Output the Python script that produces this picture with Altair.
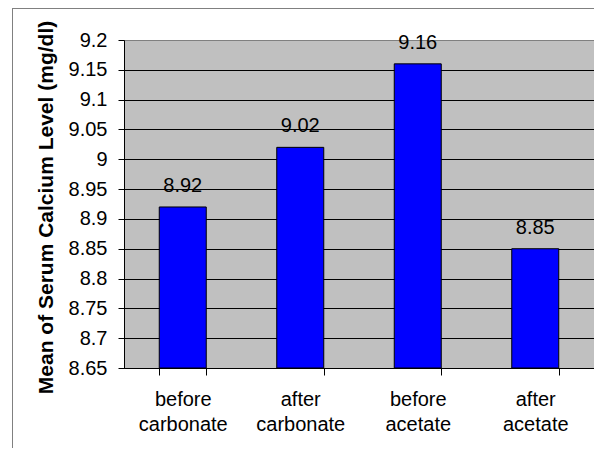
import altair as alt
import pandas as pd

categories = ["before carbonate", "after carbonate", "before acetate", "after acetate"]
values = [8.92, 9.02, 9.16, 8.85]
y_ticks = [8.65, 8.7, 8.75, 8.8, 8.85, 8.9, 8.95, 9.0, 9.05, 9.1, 9.15, 9.2]

df = pd.DataFrame({"cat": categories, "val": values})

FONT = "Liberation Sans"
W, H = 470, 328

x_enc = alt.X(
    "cat:N",
    sort=categories,
    scale=alt.Scale(paddingInner=0.6, paddingOuter=0.3),
    axis=alt.Axis(
        title=None,
        labelAngle=0,
        labelExpr="split(datum.label, ' ')",
        labelLineHeight=25,
        labelFontSize=20,
        labelFont=FONT,
        labelColor="black",
        labelPadding=14,
        tickBand="extent",
        tickSize=7,
        tickColor="black",
        domainColor="black",
        grid=False,
    ),
)
y_enc = alt.Y(
    "val:Q",
    scale=alt.Scale(domain=[8.65, 9.2], nice=False, zero=False),
    axis=alt.Axis(
        title="Mean of Serum Calcium Level (mg/dl)",
        titleFont=FONT,
        titleFontSize=21,
        titleFontWeight="bold",
        titleColor="black",
        titleAngle=270,
        titleAlign="center",
        titleBaseline="middle",
        titleX=-78,
        titleY=167,
        values=y_ticks,
        tickCount=len(y_ticks) + 2,
        format="~g",
        labelOverlap=False,
        labelFontSize=20,
        labelFont=FONT,
        labelColor="black",
        labelPadding=11,
        tickSize=6,
        tickColor="black",
        domainColor="black",
        grid=True,
        gridColor={"condition": {"test": "datum.value >= 9.19", "value": "#808080"}, "value": "black"},
        gridOpacity=1,
    ),
)

bars = alt.Chart(df).mark_bar(
    color="#0000FF", stroke="black", strokeWidth=1, clip=True
).encode(x=x_enc, y=y_enc, y2=alt.datum(8.65))
labels = alt.Chart(df).mark_text(
    font=FONT, fontSize=20, color="black", baseline="alphabetic", dy=-15
).encode(x=alt.X("cat:N", sort=categories), y="val:Q", text=alt.Text("val:Q", format=".2f"))

frame = alt.Data(values=[{"k": 1}])
top_border = alt.Chart(frame).mark_rule(color="#808080", strokeWidth=1).encode(
    x=alt.value(-112), x2=alt.value(W), y=alt.value(-31.5)
)
left_border = alt.Chart(frame).mark_rule(color="#808080", strokeWidth=1).encode(
    x=alt.value(-111.5), y=alt.value(-32), y2=alt.value(H + 80)
)

chart = (
    alt.layer(bars, labels, top_border, left_border)
    .properties(
        width=W,
        height=H,
        autosize=alt.AutoSizeParams(type="none"),
        padding={"left": 116, "top": 32, "right": 0, "bottom": 80},
        background="white",
    )
    .configure_view(fill="#C0C0C0", stroke="#808080", strokeWidth=1)
)

chart.save("out.html", embed_options={"renderer": "svg", "actions": False})
